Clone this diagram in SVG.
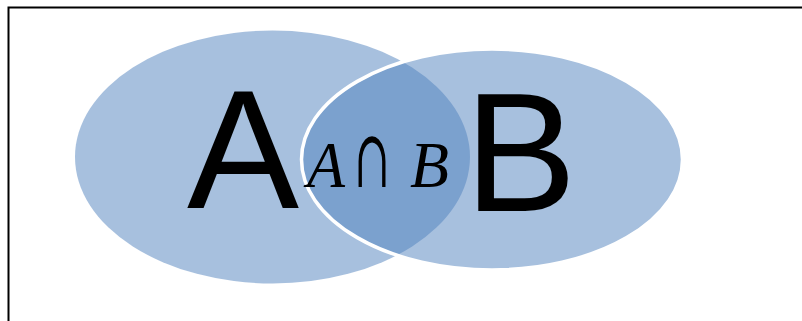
<svg xmlns="http://www.w3.org/2000/svg" width="802" height="321" viewBox="0 0 802 321">
<style>
.set{fill:#4F81BD;fill-opacity:0.5}
.big{font-family:"Liberation Sans",Arial,sans-serif;font-size:168px;fill:#000}
.math{font-family:"Liberation Serif","Times New Roman",serif;font-size:66px;fill:#000}
.cap{font-family:"DejaVu Serif",serif;font-size:81px;fill:#000}
</style>
<rect width="802" height="321" fill="#fff"/>
<path d="M8.5 321 V7.5 H802" fill="none" stroke="#000" stroke-width="2"/>
<g id="setA">
<ellipse class="set" cx="272.5" cy="157" rx="197.5" ry="126.5"/>
</g>
<g id="setB">
<ellipse class="set" cx="492" cy="159.5" rx="190.5" ry="110.5" stroke="#fff" stroke-width="3.5"/>
</g>
<g id="labels">
<text class="big" x="187" y="208">A</text>
<text class="big" x="464.5" y="210.5">B</text>
</g>
<g id="intersection">
<text class="math" x="307" y="186.5" font-style="italic" textLength="38" lengthAdjust="spacingAndGlyphs">A</text>
<text class="cap" x="354" y="186.5" textLength="36" lengthAdjust="spacingAndGlyphs">∩</text>
<text class="math" x="410" y="186.5" font-style="italic" textLength="39" lengthAdjust="spacingAndGlyphs">B</text>
</g>
</svg>
